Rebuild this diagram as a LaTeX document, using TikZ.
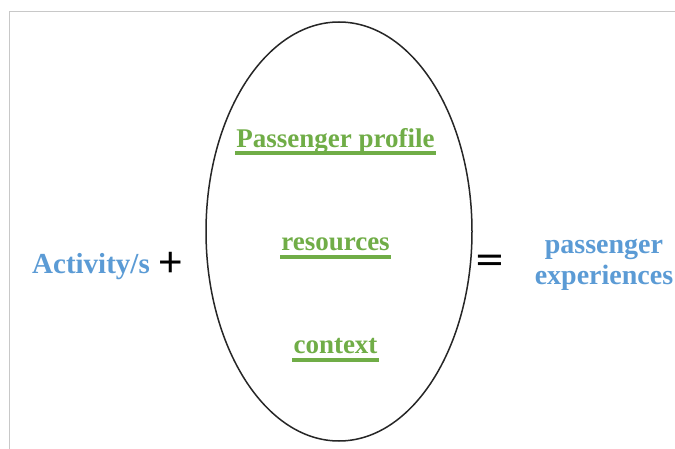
\documentclass[tikz,border=0pt]{standalone}
\usepackage{fontspec}
\usetikzlibrary{shapes.geometric}
\setmainfont{Liberation Serif}
\newfontfamily\signfont{Liberation Sans}
\definecolor{tgreen}{HTML}{70AD47}
\definecolor{tblue}{HTML}{5B9BD5}
\definecolor{frame}{HTML}{C8C8C8}
\tikzset{
  gtext/.style={anchor=base, inner sep=0pt, text=tgreen, font=\fontsize{27}{27}\selectfont\bfseries},
  uline/.style={draw=tgreen, line width=4pt},
  btext/.style={inner sep=0pt, text=tblue, font=\fontsize{28}{31}\selectfont\bfseries},
  sign/.style={inner sep=0pt, text=black},
}
\begin{document}
\begin{tikzpicture}[x=1pt, y=-1pt]
\useasboundingbox (0,0) rectangle (675,449);
\fill[white] (0,0) rectangle (675,449);
% frame
\draw[frame, line width=1pt] (675,12) -- (9,12) -- (9,449);
% ellipse
\node[draw=black!85, line width=1.5pt, ellipse, minimum width=266pt, minimum height=419pt, inner sep=0pt] (ell) at (339,231.5) {};
% green texts
\node[gtext] (pp) at (335.5,148) {Passenger profile};
\node[gtext] (res) at (335.5,251) {resources};
\node[gtext] (ctx) at (335.5,353) {context};
\draw[uline] ([shift={(-1pt,-5.5pt)}]pp.base west) -- ([shift={(1pt,-5.5pt)}]pp.base east);
\draw[uline] ([shift={(-1pt,-6pt)}]res.base west) -- ([shift={(1pt,-6pt)}]res.base east);
\draw[uline] ([shift={(-1pt,-6.5pt)}]ctx.base west) -- ([shift={(1pt,-6.5pt)}]ctx.base east);
% left and right
\node[btext, anchor=base, font=\fontsize{29}{31}\selectfont\bfseries] (act) at (91,273) {Activity/s};
\node[sign, font=\signfont\fontsize{42}{42}\selectfont] (plus) at (171,264) {+};
\node[sign, font=\signfont\bfseries\fontsize{46}{46}\selectfont] (eq) at (489.5,262.5) {\scalebox{1}[0.6]{=}};
\node[btext, anchor=base, align=center] (pe) at (604,284) {passenger\\experiences};
\end{tikzpicture}
\end{document}
